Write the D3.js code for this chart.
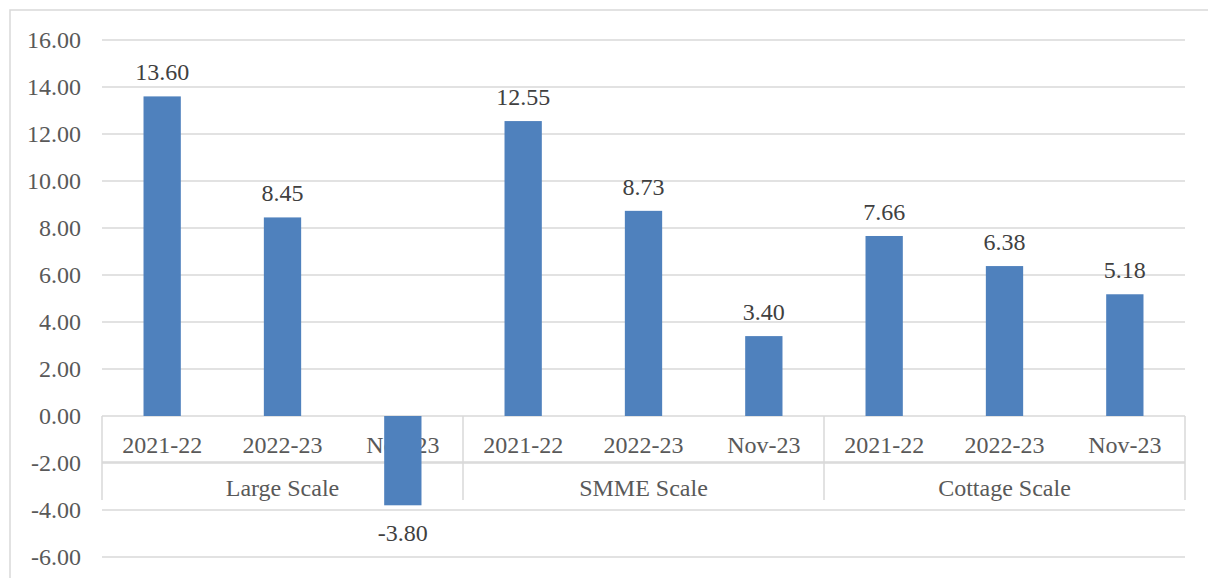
<!DOCTYPE html>
<html>
<head>
<meta charset="utf-8">
<script src="https://cdn.jsdelivr.net/npm/d3@7"></script>
<style>
  body { margin: 0; background: #fff; }
  svg { display: block; }
  text { font-family: "Liberation Serif", "Times New Roman", serif; }
</style>
</head>
<body>
<svg id="chart" width="1208" height="578"></svg>
<script>
// data
var groups = ["Large Scale", "SMME Scale", "Cottage Scale"];
var periods = ["2021-22", "2022-23", "Nov-23"];
var largeVals = [13.60, 8.45, -3.80];
var smmeVals = [12.55, 8.73, 3.40];
var cottageVals = [7.66, 6.38, 5.18];
var yTicks = [-6, -4, -2, 0, 2, 4, 6, 8, 10, 12, 14, 16];

var allVals = [largeVals, smmeVals, cottageVals];
var rows = [];
groups.forEach(function(g, gi) {
  periods.forEach(function(p, pi) {
    rows.push({ key: g + "|" + p, group: g, period: p, value: allVals[gi][pi] });
  });
});

// plain hyphen for negatives, like the original
var fmt = d3.formatLocale({ decimal: ".", thousands: ",", grouping: [3], currency: ["", ""], minus: "-" }).format(".2f");

var svg = d3.select("svg#chart");
var left = 102, right = 1185;
var gridColor = "#d9d9d9";
var textColor = "#595959";
var fontSize = "24px";

// outer frame
svg.append("rect")
  .attr("x", 10).attr("y", 10)
  .attr("width", 1220).attr("height", 600)
  .attr("fill", "none")
  .attr("stroke", gridColor)
  .attr("stroke-width", 1.5);

var y = d3.scaleLinear().domain([-6, 16]).range([557, 40]);

var x = d3.scaleBand()
  .domain(rows.map(d => d.key))
  .range([left, right])
  .paddingInner(0.69)
  .paddingOuter(0.345);

var xGroup = d3.scaleBand().domain(groups).range([left, right]);

// gridlines
svg.selectAll("line.grid")
  .data(yTicks)
  .enter().append("line")
  .attr("class", "grid")
  .attr("x1", left).attr("x2", right)
  .attr("y1", d => y(d)).attr("y2", d => y(d))
  .attr("stroke", gridColor)
  .attr("stroke-width", 1.5);

// y labels
svg.selectAll("text.ylab")
  .data(yTicks)
  .enter().append("text")
  .attr("class", "ylab")
  .attr("x", 81)
  .attr("y", d => y(d))
  .attr("dy", "0.35em")
  .attr("text-anchor", "end")
  .attr("fill", textColor)
  .style("font-size", fontSize)
  .text(d => fmt(d));

// category axis table
var rowLine = y(0) + 46;
var axisBottom = y(0) + 84;
svg.append("line")
  .attr("x1", left).attr("x2", right)
  .attr("y1", rowLine).attr("y2", rowLine)
  .attr("stroke", gridColor).attr("stroke-width", 1.5);

var dividers = groups.map(g => xGroup(g)).concat([right]);
svg.selectAll("line.div")
  .data(dividers)
  .enter().append("line")
  .attr("class", "div")
  .attr("x1", d => d).attr("x2", d => d)
  .attr("y1", y(0)).attr("y2", axisBottom)
  .attr("stroke", gridColor).attr("stroke-width", 1.5);

svg.selectAll("text.period")
  .data(rows)
  .enter().append("text")
  .attr("class", "period")
  .attr("x", d => x(d.key) + x.bandwidth() / 2)
  .attr("y", y(0) + 37)
  .attr("text-anchor", "middle")
  .attr("fill", textColor)
  .style("font-size", fontSize)
  .text(d => d.period);

svg.selectAll("text.group")
  .data(groups)
  .enter().append("text")
  .attr("class", "group")
  .attr("x", d => xGroup(d) + xGroup.bandwidth() / 2)
  .attr("y", y(0) + 80)
  .attr("text-anchor", "middle")
  .attr("fill", textColor)
  .style("font-size", fontSize)
  .text(d => d);

// bars
svg.selectAll("rect.bar")
  .data(rows)
  .enter().append("rect")
  .attr("class", "bar")
  .attr("x", d => x(d.key))
  .attr("width", x.bandwidth())
  .attr("y", d => y(Math.max(0, d.value)))
  .attr("height", d => Math.abs(y(d.value) - y(0)))
  .attr("fill", "#4f81bd");

// value labels
svg.selectAll("text.val")
  .data(rows)
  .enter().append("text")
  .attr("class", "val")
  .attr("x", d => x(d.key) + x.bandwidth() / 2)
  .attr("y", d => d.value >= 0 ? y(d.value) - 16 : y(d.value) + 36)
  .attr("text-anchor", "middle")
  .attr("fill", "#404040")
  .style("font-size", fontSize)
  .text(d => fmt(d.value));
</script>
</body>
</html>
